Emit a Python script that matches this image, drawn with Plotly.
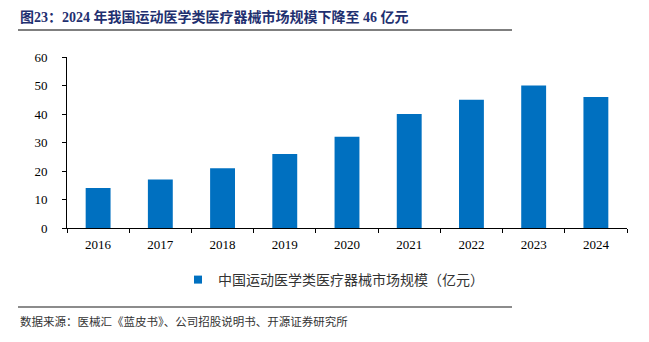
import plotly.graph_objects as go

years = ["2016", "2017", "2018", "2019", "2020", "2021", "2022", "2023", "2024"]
market_size = [14, 17, 21, 26, 32, 40, 45, 50, 46]
series_name = "中国运动医学类医疗器械市场规模（亿元）"
title_text = "图23：2024 年我国运动医学类医疗器械市场规模下降至 46 亿元"
source_text = "数据来源：医械汇《蓝皮书》、公司招股说明书、开源证券研究所"

W, H = 649, 342
L, R, T, B = 67, 22, 57, 114
PW, PH = W - L - R, H - T - B
BAR_COLOR = "#0070C0"

def fx(p):
    return (p - L) / PW

def fy(p):
    return (H - B - p) / PH

fig = go.Figure()
fig.add_trace(go.Bar(
    x=years, y=market_size, name=series_name, showlegend=False,
    marker=dict(color=BAR_COLOR, line=dict(width=0)),
    width=0.4,
))
fig.add_trace(go.Scatter(
    x=[None], y=[None], mode="markers", name=series_name,
    marker=dict(symbol="square", size=8, color=BAR_COLOR),
))

fig.update_layout(
    width=W, height=H,
    margin=dict(l=L, r=R, t=T, b=B, pad=0),
    paper_bgcolor="white", plot_bgcolor="white",
    font=dict(family="Liberation Serif, Noto Sans CJK SC", size=13, color="#000000"),
    showlegend=True,
    legend=dict(
        orientation="h", x=fx(178), xanchor="left", y=fy(264), yanchor="top",
        font=dict(family="Noto Sans CJK SC", size=14, color="#333333"),
        itemwidth=30, bgcolor="rgba(0,0,0,0)",
    ),
    xaxis=dict(
        type="category", showline=True, linecolor="#000000", linewidth=1,
        ticks="outside", tickson="boundaries", ticklen=4, tickcolor="#000000",
        showgrid=False, ticklabelstandoff=4,
        tickfont=dict(family="Liberation Serif", size=13, color="#000000"),
    ),
    yaxis=dict(
        range=[0, 60], dtick=10, showline=True, linecolor="#000000", linewidth=1,
        ticks="outside", ticklen=4, tickcolor="#000000", showgrid=False, zeroline=False,
        ticklabelstandoff=12,
        tickfont=dict(family="Liberation Serif", size=13, color="#000000"),
    ),
    shapes=[
        dict(type="line", xref="paper", yref="paper",
             x0=fx(18), x1=fx(512), y0=fy(30), y1=fy(30),
             line=dict(color="#000000", width=1.2)),
        dict(type="line", xref="paper", yref="paper",
             x0=fx(18), x1=fx(512), y0=fy(307), y1=fy(307),
             line=dict(color="#8c8c8c", width=2)),
    ],
    annotations=[
        dict(text="<b>" + title_text + "</b>", xref="paper", yref="paper",
             x=fx(18), y=fy(17), xanchor="left", yanchor="middle", showarrow=False,
             font=dict(family="Liberation Serif, Noto Sans CJK SC", size=14, color="#1F3070")),
        dict(text=source_text, xref="paper", yref="paper",
             x=fx(18), y=fy(321), xanchor="left", yanchor="middle", showarrow=False,
             font=dict(family="Noto Sans CJK SC", size=11.5, color="#333333")),
    ],
)

fig.write_html("out.html")
